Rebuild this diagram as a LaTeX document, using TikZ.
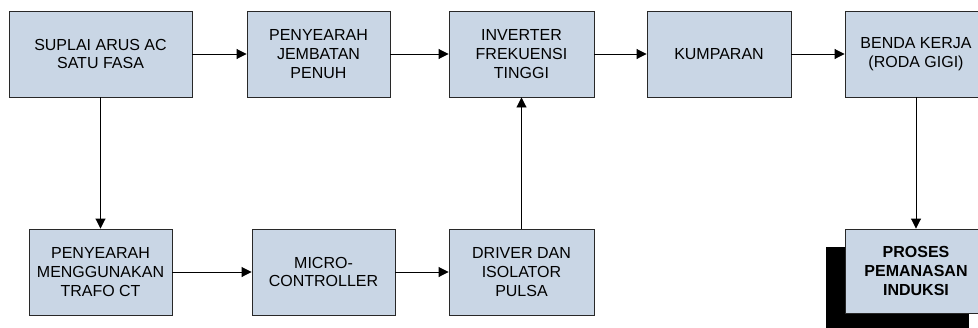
\documentclass[tikz,border=0pt]{standalone}
\usepackage{fontspec}
\setmainfont{Liberation Sans}
\usetikzlibrary{arrows.meta}
\definecolor{boxfill}{RGB}{201,214,229}
\definecolor{boxline}{RGB}{40,40,40}
\begin{document}
\begin{tikzpicture}[x=1pt,y=-1pt,
  blk/.style={draw=boxline,line width=0.9pt,fill=boxfill,minimum height=86pt,
    inner sep=0pt,align=center,font=\fontsize{16}{18.8}\selectfont},
  conn/.style={line width=0.9pt,-{Triangle[length=10pt,width=10pt]}}]
\useasboundingbox (0,0) rectangle (978,327);
\fill[white] (0,0) rectangle (978,327);
% shadow of last box
\fill[black] (826,247) rectangle (969,331);
\node[blk,minimum width=183pt] (ac) at (100.5,54) {SUPLAI ARUS AC\\SATU FASA};
\node[blk,minimum width=143pt] (jem) at (318.5,54) {PENYEARAH\\JEMBATAN\\PENUH};
\node[blk,minimum width=145pt] (inv) at (521.5,54) {INVERTER\\FREKUENSI\\TINGGI};
\node[blk,minimum width=144pt] (kum) at (719,54) {KUMPARAN};
\node[blk,minimum width=142pt] (ben) at (916,54) {BENDA KERJA\\(RODA GIGI)};
\node[blk,minimum width=143pt] (ct) at (100.5,272) {PENYEARAH\\MENGGUNAKAN\\TRAFO CT};
\node[blk,minimum width=143pt] (mc) at (323.5,272) {MICRO-\\CONTROLLER};
\node[blk,minimum width=145pt] (drv) at (521.5,272) {DRIVER DAN\\ISOLATOR\\PULSA};
\node[blk,minimum width=142pt,minimum height=84pt,font=\fontsize{16}{18.8}\selectfont\bfseries] (pro) at (916,271) {PROSES\\PEMANASAN\\INDUKSI};
\draw[conn] (ac) -- (jem);
\draw[conn] (jem) -- (inv);
\draw[conn] (inv) -- (kum);
\draw[conn] (kum) -- (ben);
\draw[conn] (ac) -- (ct);
\draw[conn] (ct) -- (mc);
\draw[conn] (mc) -- (drv);
\draw[conn] (drv) -- (inv);
\draw[conn] (ben) -- (pro);
\end{tikzpicture}
\end{document}
